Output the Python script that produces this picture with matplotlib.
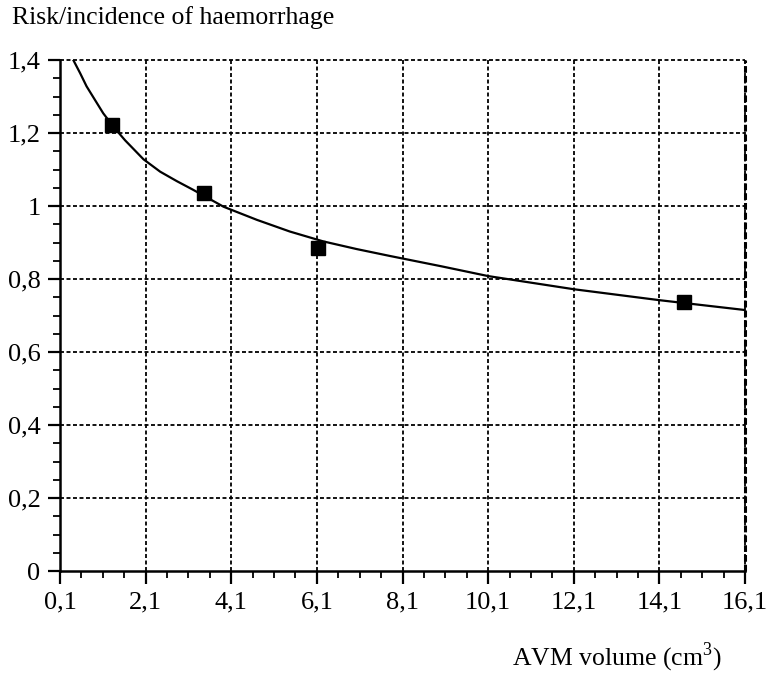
import numpy as np
import matplotlib.pyplot as plt
from matplotlib.ticker import MultipleLocator, FixedLocator, FuncFormatter

# Observed risk/incidence of haemorrhage per AVM volume group
vol_obs  = [1.32, 3.46, 6.13, 14.68]
risk_obs = [1.222, 1.036, 0.885, 0.737]

# Fitted trend line, read along its length
vol_fit  = [0.41, 0.57, 0.72, 0.92, 1.11, 1.35, 1.62, 2.05, 2.44, 2.83, 3.20,
            3.92, 4.70, 5.47, 6.25, 7.03, 7.81, 9.00, 10.1, 12.1, 14.1, 16.1]
risk_fit = [1.400, 1.364, 1.328, 1.290, 1.254, 1.217, 1.180, 1.128, 1.094, 1.068, 1.045,
            0.998, 0.962, 0.930, 0.903, 0.882, 0.863, 0.835, 0.808, 0.772, 0.742, 0.715]

x_ticks = [0.1, 2.1, 4.1, 6.1, 8.1, 10.1, 12.1, 14.1, 16.1]
y_ticks = [0, 0.2, 0.4, 0.6, 0.8, 1.0, 1.2, 1.4]

plt.rcParams['font.family'] = ['Liberation Serif', 'DejaVu Serif']
plt.rcParams['mathtext.fontset'] = 'custom'
plt.rcParams['mathtext.rm'] = 'Liberation Serif'

fig = plt.figure(figsize=(7.67, 6.77), dpi=100)
ax = fig.add_axes([60/767, 1 - 571/677, 685/767, 511/677])

ax.plot(vol_fit, risk_fit, color='black', lw=1.6, zorder=3)
ax.plot(vol_obs, risk_obs, ls='none', marker='s', ms=10.5, color='black', zorder=4)

ax.set_xlim(0.1, 16.1)
ax.set_ylim(0, 1.4)

# dashed grid, including the top and right borders
for xv in x_ticks[1:]:
    ax.axvline(xv, color='black', lw=1.3, ls=(0, (2.2, 1.4)), zorder=1,
               clip_on=False)
for yv in y_ticks[1:]:
    ax.axhline(yv, color='black', lw=1.3, ls=(0, (2.2, 1.4)), zorder=1,
               clip_on=False)
ax.axvline(16.1, color='black', lw=2.2, ls=(0, (2.2, 1.0)), zorder=2, clip_on=False)

ax.spines['top'].set_visible(False)
ax.spines['right'].set_visible(False)
for side in ('left', 'bottom'):
    ax.spines[side].set_linewidth(1.8)

ax.xaxis.set_major_locator(FixedLocator(x_ticks))
ax.xaxis.set_minor_locator(FixedLocator(np.arange(0.1, 16.11, 0.5)))
ax.yaxis.set_major_locator(FixedLocator(y_ticks))
ax.yaxis.set_minor_locator(MultipleLocator(0.05))

comma = FuncFormatter(lambda v, p: f"{v:g}".replace('.', ','))
ax.xaxis.set_major_formatter(comma)
ax.yaxis.set_major_formatter(comma)

ax.tick_params(which='major', direction='out', length=9, width=1.6,
               labelsize=19, color='black')
ax.tick_params(which='minor', direction='out', length=5, width=1.3, color='black')
ax.tick_params(axis='x', which='major', pad=6)
ax.tick_params(axis='y', which='major', pad=5)

fig.text(12/767, 1 - 18/677, "Risk/incidence of haemorrhage", fontsize=18.5,
         ha='left', va='center')
fig.text(722/767, 1 - 657/677, r"AVM volume (cm$^3$)", fontsize=18.5,
         ha='right', va='center')

fig.savefig("out.png", dpi=100)
